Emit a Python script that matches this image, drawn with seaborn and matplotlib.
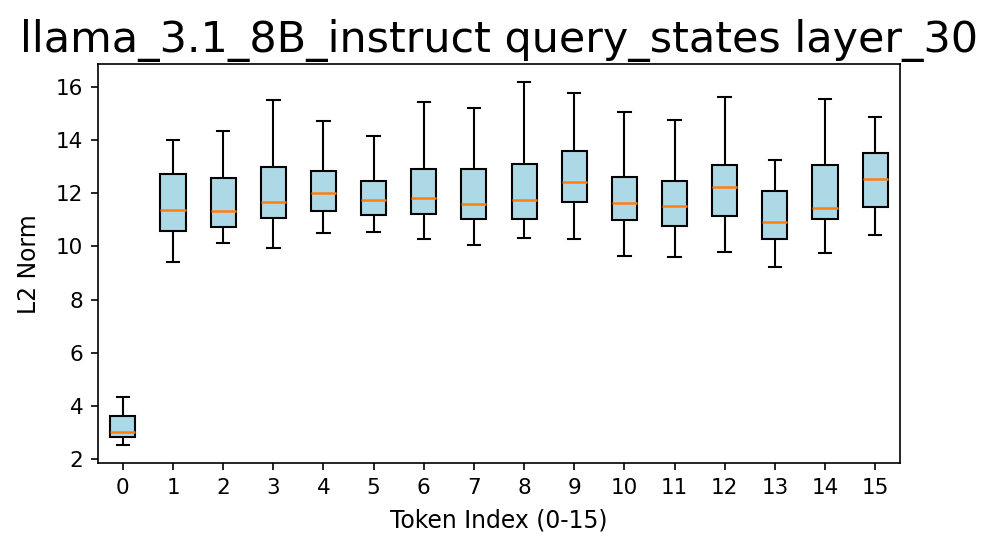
import matplotlib
matplotlib.use("Agg")
import matplotlib.pyplot as plt
import seaborn as sns
import pandas as pd

# Estadisticos: bigote inferior, Q1, mediana, Q3, bigote superior
tokens = list(range(16))
whisker_low = [2.53, 9.41, 10.14, 9.96, 10.50, 10.55, 10.29, 10.06,
               10.31, 10.28, 9.66, 9.60, 9.81, 9.22, 9.74, 10.44]
q1 = [2.84, 10.58, 10.75, 11.08, 11.34, 11.19, 11.22, 11.03,
      11.04, 11.67, 11.01, 10.76, 11.16, 10.30, 11.05, 11.48]
median = [3.03, 11.37, 11.34, 11.69, 12.02, 11.76, 11.83, 11.61,
          11.76, 12.44, 11.63, 11.53, 12.25, 10.93, 11.46, 12.55]
q3 = [3.63, 12.71, 12.56, 13.00, 12.85, 12.45, 12.91, 12.91,
      13.11, 13.58, 12.62, 12.46, 13.08, 12.10, 13.08, 13.53]
whisker_high = [4.36, 13.99, 14.34, 15.49, 14.72, 14.14, 15.42, 15.21,
                16.17, 15.76, 15.06, 14.77, 15.60, 13.25, 15.55, 14.86]

# Tabla larga: cinco puntos por token reproducen los cuartiles exactos
rows = []
for t in tokens:
    for v in (whisker_low[t], q1[t], median[t], q3[t], whisker_high[t]):
        rows.append({"token": t, "norm": v})
df = pd.DataFrame(rows)

fig = plt.figure(figsize=(998 / 150, 553 / 150), dpi=150)
ax = fig.add_axes([0.098, 0.162, 0.804, 0.722])

sns.boxplot(data=df, x="token", y="norm", ax=ax, width=0.5,
            color="lightblue", saturation=1, linecolor="black", linewidth=1,
            whis=(0, 100), showfliers=False,
            medianprops={"color": "#ff7f0e", "linewidth": 1.2})

ax.set_title("llama_3.1_8B_instruct query_states layer_30", fontsize=20.6)
ax.set_xlabel("Token Index (0-15)", fontsize=11.3, labelpad=5)
ax.set_ylabel("L2 Norm", fontsize=11.3, labelpad=7)
ax.tick_params(labelsize=10.3)

fig.savefig("out.png", dpi=150)
plt.close(fig)
